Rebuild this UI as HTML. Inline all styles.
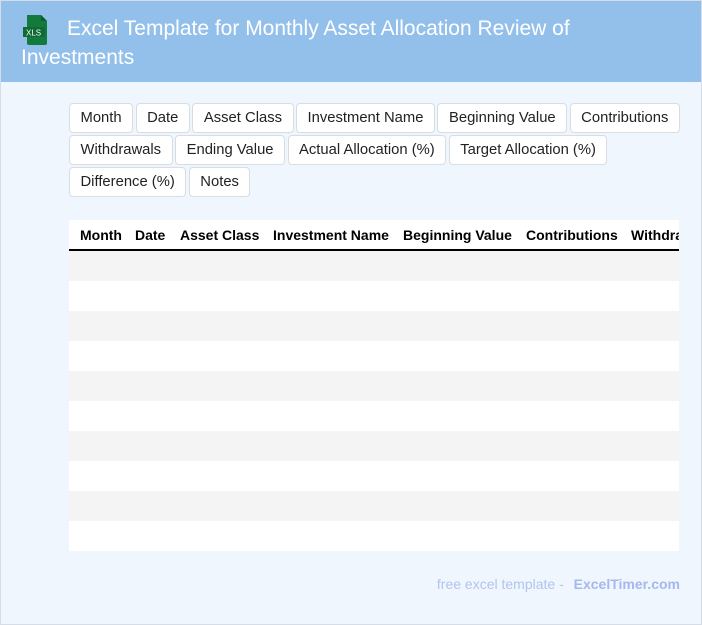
<!DOCTYPE html>
<html><head><meta charset="utf-8"><style>
*{box-sizing:border-box;margin:0;padding:0}
html,body{width:702px;height:625px;overflow:hidden}
body{background:#f0f6fe;font-family:"Liberation Sans",Arial,sans-serif;position:relative;border:1px solid #d6dde6}
.hdr{position:absolute;left:0;top:0;width:700px;height:81px;background:#93c0eb}
.title{position:absolute;left:20px;top:13px;width:600px;color:#fff;font-size:21px;line-height:29px;text-indent:46px}
.icon{position:absolute;left:22px;top:14px;width:28px;height:30px}
.tags{position:absolute;left:68px;top:102px;width:622px;display:flex;flex-wrap:wrap}
.tag{display:block;height:30px;line-height:28px;padding:0 10.5px;border:1px solid #d8dde3;border-radius:4px;background:#fff;font-size:14.8px;color:#222;margin:0 2.5px 2px 0;white-space:nowrap}
.tw{position:absolute;left:68px;top:219px;width:610px;height:331px;overflow:hidden;background:#fff}
.th{position:relative;height:31px;border-bottom:2px solid #000;font-weight:bold;font-size:14px;white-space:nowrap}
.th span{position:absolute;top:7px}
.r{height:30px}
.g{background:#f4f4f4}
.foot{position:absolute;right:21px;top:575px;font-size:14px;color:#b0c4ee}
.foot b{margin-left:6px;color:#a5b8ec}
</style></head><body>
<div class="hdr">
<svg class="icon" viewBox="0 0 28 30"><path d="M4 0h14l6 6v22a2 2 0 0 1-2 2H6a2 2 0 0 1-2-2z" fill="#127a3d"/><path d="M18 0v6h6z" fill="#0d5e2f"/><rect x="0" y="12" width="22" height="10" fill="#0f6a34"/><text x="3" y="20.5" font-size="8" fill="#fff" font-family="Liberation Sans">XLS</text></svg>
<div class="title">Excel Template for Monthly Asset Allocation Review of Investments</div>
</div>
<div class="tags"><span class="tag">Month</span><span class="tag">Date</span><span class="tag">Asset Class</span><span class="tag">Investment Name</span><span class="tag">Beginning Value</span><span class="tag">Contributions</span><span class="tag">Withdrawals</span><span class="tag">Ending Value</span><span class="tag">Actual Allocation (%)</span><span class="tag">Target Allocation (%)</span><span class="tag">Difference (%)</span><span class="tag">Notes</span></div>
<div class="tw">
<div class="th"><span style="left:11px">Month</span><span style="left:66px">Date</span><span style="left:111px">Asset Class</span><span style="left:204px">Investment Name</span><span style="left:334px">Beginning Value</span><span style="left:457px">Contributions</span><span style="left:562px">Withdrawals</span></div>
<div class="r g"></div><div class="r"></div><div class="r g"></div><div class="r"></div><div class="r g"></div><div class="r"></div><div class="r g"></div><div class="r"></div><div class="r g"></div><div class="r"></div>
</div>
<div class="foot">free excel template - <b>ExcelTimer.com</b></div>
</body></html>
